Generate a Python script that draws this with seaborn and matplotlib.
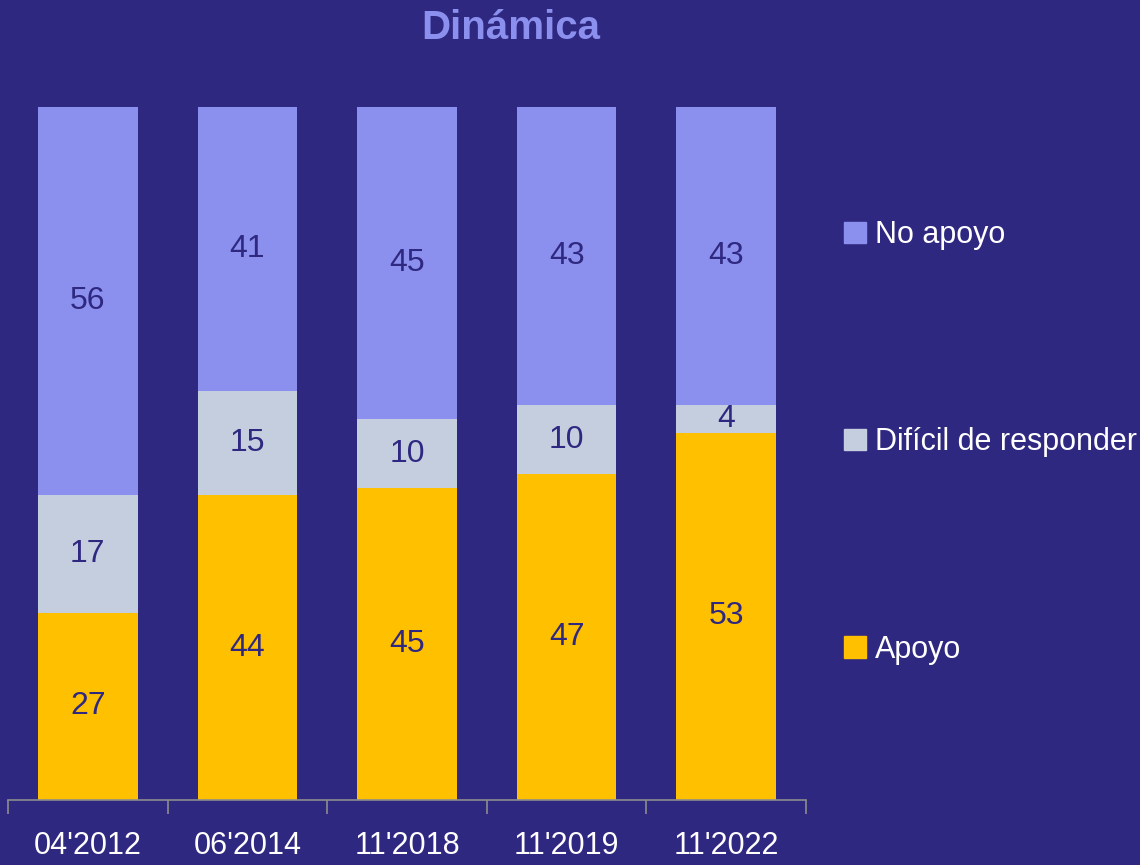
import matplotlib
matplotlib.use("Agg")
import matplotlib.pyplot as plt
import seaborn as sns
import pandas as pd
import numpy as np
from matplotlib.patches import Patch

periods = ["04'2012", "06'2014", "11'2018", "11'2019", "11'2022"]
apoyo = [27, 44, 45, 47, 53]
dificil = [17, 15, 10, 10, 4]
no_apoyo = [56, 41, 45, 43, 43]

series = ["Apoyo", "Difícil de responder", "No apoyo"]
colors = {"Apoyo": "#FFC000", "Difícil de responder": "#C5CEDE", "No apoyo": "#8B8FEE"}

bg = "#2F2880"
navy = "#2F2880"

df = pd.DataFrame({"period": periods, "Apoyo": apoyo,
                   "Difícil de responder": dificil, "No apoyo": no_apoyo})

sns.set_theme(style="white")
plt.rcParams['font.family'] = ['Liberation Sans', 'DejaVu Sans']

fig = plt.figure(figsize=(11.4, 8.65), dpi=100, facecolor=bg)
ax = fig.add_axes([8 / 1140, 1 - 800 / 865, 798 / 1140, 693 / 865])
ax.set_facecolor(bg)

# stacked bars, one seaborn call per series
bottom = np.zeros(len(periods))
for name in series:
    sns.barplot(data=df, x="period", y=name, color=colors[name], width=0.625,
                bottom=bottom, saturation=1, ax=ax, linewidth=0)
    bottom += df[name].values

for cont in ax.containers:
    ax.bar_label(cont, label_type="center", color=navy, fontsize=23)

ax.set_ylim(0, 100)
ax.set_xlim(-0.5, len(periods) - 0.5)
ax.set_xlabel("")
ax.set_ylabel("")
ax.set_yticks([])
for s in ["top", "right", "left"]:
    ax.spines[s].set_visible(False)
ax.spines["bottom"].set_color("#8C8C8C")
ax.spines["bottom"].set_linewidth(1.2)

ax.set_xticks(range(len(periods)))
ax.set_xticklabels(periods, color="white", fontsize=22)
ax.tick_params(axis="x", which="major", length=0, pad=22)
ax.set_xticks(np.arange(-0.5, len(periods)), minor=True)
ax.tick_params(axis="x", which="minor", length=10, width=1.2, color="#8C8C8C",
               direction="out", bottom=True)

fig.text(511 / 1140, 1 - 28 / 865, "Dinámica", ha="center", va="center",
         fontsize=29, fontweight="bold", color="#8B8FEE")

handles = [Patch(color=colors[n], label=n) for n in reversed(series)]
ax.legend(handles=handles, loc="upper left", bbox_to_anchor=(832 / 1140, 1 - 208 / 865),
          bbox_transform=fig.transFigure, frameon=False, fontsize=22,
          labelcolor="white", handlelength=0.7, handleheight=0.7,
          handletextpad=0.3, labelspacing=5.8, borderaxespad=0)

fig.savefig("out.png", dpi=100, facecolor=bg)
